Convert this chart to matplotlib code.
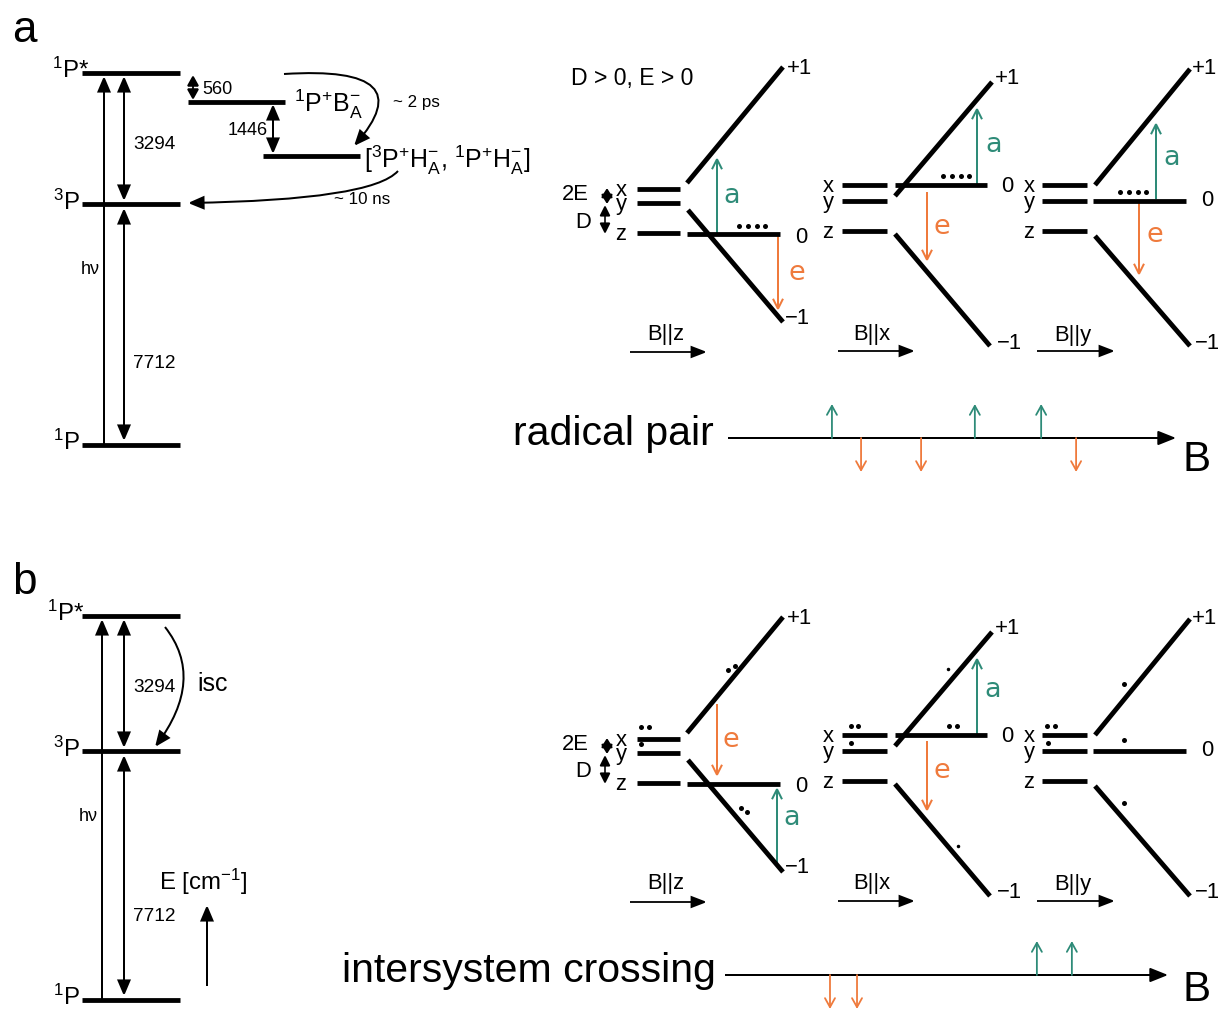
import matplotlib
matplotlib.use("Agg")
import matplotlib.pyplot as plt
from matplotlib.patches import FancyArrowPatch
from matplotlib.path import Path

plt.rcParams['font.family'] = ['Liberation Sans', 'DejaVu Sans']
plt.rcParams['mathtext.fontset'] = 'custom'
plt.rcParams['mathtext.rm'] = 'Liberation Sans'
plt.rcParams['mathtext.it'] = 'Liberation Sans:italic'
plt.rcParams['mathtext.default'] = 'regular'

# ---------------------------------------------------------------- data
panel_letters = ['a', 'b']
state_labels = [r'$^{1}$P*', r'$^{3}$P', r'$^{1}$P']
gap_values = ['3294', '7712']
rp_state_labels = [r'$^{1}$P$^{+}$B$_{A}^{-}$',
                   r'[$^{3}$P$^{+}$H$_{A}^{-}$, $^{1}$P$^{+}$H$_{A}^{-}$]']
rp_gap_values = ['560', '1446']
rate_labels = ['~ 2 ps', '~ 10 ns']
zf_labels = ['x', 'y', 'z']
hf_labels = ['+1', '0', '\u22121']
field_labels = ['B||z', 'B||x', 'B||y']
sign_text = 'D > 0, E > 0'
spectrum_titles = ['radical pair', 'intersystem crossing']

# stick spectra: field positions (arb. units, 0..10) and sign (+1 absorption, -1 emission)
rp_fields = [2.32, 2.97, 4.31, 5.51, 6.99, 7.77]
rp_signs = [1, -1, -1, 1, 1, -1]
isc_fields = [2.37, 2.98, 7.04, 7.83]
isc_signs = [-1, -1, 1, 1]

TEAL = '#2e8b78'
ORANGE = '#ef7a3c'

# ---------------------------------------------------------------- canvas
W, H, DPI = 1224, 1012, 100
fig = plt.figure(figsize=(W / DPI, H / DPI), dpi=DPI)
ax = fig.add_axes([0, 0, 1, 1])
ax.set_xlim(0, W)
ax.set_ylim(H, 0)
ax.axis('off')


def pt(v):
    """pixel length -> points"""
    return v * 72.0 / DPI


def text(x, y, s, size, ha='left', va='center', color='k', **kw):
    ax.text(x, y, s, fontsize=pt(size), ha=ha, va=va, color=color, **kw)


def arrow(p0, p1, style='-|>', color='k', lw=2.0, hl=12, hw=5, path=None):
    kw = dict(arrowstyle=f'{style},head_length={pt(hl)},head_width={pt(hw)}',
              mutation_scale=1, lw=pt(lw), color=color, joinstyle='miter',
              capstyle='butt')
    if path is not None:
        a = FancyArrowPatch(path=path, **kw)
    else:
        a = FancyArrowPatch(p0, p1, shrinkA=0, shrinkB=0, **kw)
    ax.add_patch(a)


def hline(x0, x1, y, lw=4.8):
    ax.plot([x0, x1], [y, y], color='k', lw=pt(lw), solid_capstyle='butt')


def seg(p0, p1, lw=4.8):
    ax.plot([p0[0], p1[0]], [p0[1], p1[1]], color='k', lw=pt(lw),
            solid_capstyle='butt')


def dots(xs, ys, size=5):
    ax.plot(xs, ys, 'o', color='k', ms=pt(size), mec='none')


# ---------------------------------------------------------------- layout
LEFT = dict(x0=82, x1=180, hv_x=[104, 102], gap_x=124)
level_y = [[74, 205, 446], [617, 752, 1001]]
panel_shift = [0, 550]

# triplet sublevel diagrams (panel a frame; panel b is shifted down)
diagrams = [
    dict(zf_x=(637, 680), zf_y=(190, 204, 234), lab_x=621,
         hf=[((687, 184), (783, 68)), ((687, 235), (780, 235)), ((688, 211), (783, 323))],
         hf_lab=[(787, 68, 'left'), (801, 237, 'center'), (785, 318, 'left')],
         farrow=(630, 707, 353), ftext=(666, 334)),
    dict(zf_x=(842, 887), zf_y=(186, 202, 232), lab_x=828,
         hf=[((895, 197), (992, 83)), ((895, 186), (987, 186)), ((895, 235), (990, 347))],
         hf_lab=[(995, 78, 'left'), (1007, 186, 'center'), (997, 343, 'left')],
         farrow=(838, 915, 352), ftext=(872, 334)),
    dict(zf_x=(1042, 1087), zf_y=(186, 202, 232), lab_x=1029,
         hf=[((1095, 186), (1190, 70)), ((1093, 202), (1186, 202)), ((1095, 237), (1190, 347))],
         hf_lab=[(1192, 68, 'left'), (1207, 200, 'center'), (1195, 343, 'left')],
         farrow=(1037, 1115, 352), ftext=(1073, 335)),
]

# EPR transitions drawn in each diagram: (colour, x, y_from, y_to, letter, label x, label y)
transitions = [
    [  # panel a: radical-pair populated T0
        [(TEAL, 717, 235, 158, 'a', 732, 196), (ORANGE, 778, 235, 312, 'e', 797, 273)],
        [(TEAL, 977, 186, 108, 'a', 994, 145), (ORANGE, 927, 193, 263, 'e', 942, 227)],
        [(TEAL, 1156, 200, 123, 'a', 1172, 158), (ORANGE, 1139, 204, 277, 'e', 1155, 235)],
    ],
    [  # panel b: intersystem crossing
        [(ORANGE, 717, 705, 778, 'e', 731, 740), (TEAL, 777, 867, 788, 'a', 792, 818)],
        [(TEAL, 977, 736, 658, 'a', 993, 690), (ORANGE, 927, 742, 813, 'e', 942, 771)],
        [],
    ],
]

# population dots
pop_dots = [
    [  # panel a
        ([739, 748, 757, 765], [227] * 4),
        ([943, 952, 961, 969], [177] * 4),
        ([1120, 1129, 1138, 1146], [193] * 4),
    ],
    [  # panel b
        ([641, 649, 641, 728, 735, 741, 747], [728, 728, 745, 671, 667, 809, 813]),
        ([851, 858, 851, 949, 957], [727, 727, 744, 727, 727]),
        ([1047, 1055, 1048, 1124, 1124, 1124], [727, 727, 744, 685, 741, 804]),
    ],
]
small_dots = [(948, 670), (958, 847)]

# ---------------------------------------------------------------- left: energy levels
for p in range(2):
    ly = level_y[p]
    text(12, 30 + panel_shift[p] + (3 if p else 0), panel_letters[p], 44, va='center')
    for y in ly:
        hline(LEFT['x0'], LEFT['x1'], y)
    text(89 if p == 0 else 84, ly[0] + 4, state_labels[0], 24, ha='right', va='baseline')
    text(80, ly[1] + 5, state_labels[1], 24, ha='right', va='baseline')
    text(80, ly[2] + 4, state_labels[2], 24, ha='right', va='baseline')
    hx = LEFT['hv_x'][p]
    arrow((hx, ly[2]), (hx, ly[0] + 3), hl=13, hw=5.5, lw=2)
    text(hx - 14, [269, 817][p], 'h\u03bd', 18, ha='center')
    gx = LEFT['gap_x']
    arrow((gx, ly[0] + 3), (gx, ly[1] - 3), style='<|-|>', hl=13, hw=5.5, lw=2)
    arrow((gx, ly[1] + 4), (gx, ly[2] - 4), style='<|-|>', hl=13, hw=5.5, lw=2)
    text(133, [144, 687][p], gap_values[0], 19)
    text(133, [363, 917][p], gap_values[1], 19)

# panel a: radical-pair states
hline(188, 285, 103)
hline(263, 360, 157)
arrow((193, 76), (193, 101), style='<|-|>', hl=9, hw=5, lw=1.8)
arrow((273, 105), (273, 155), style='<|-|>', hl=13, hw=5.5, lw=2)
text(202, 89, rp_gap_values[0], 18)
text(268, 130, rp_gap_values[1], 18, ha='right')
text(294, 112, rp_state_labels[0], 25, va='baseline')
text(364, 168, rp_state_labels[1], 25, va='baseline')
arrow(None, None, hl=13, hw=5.5, lw=2,
      path=Path([(284, 75), (425, 66), (354, 147)],
                [Path.MOVETO, Path.CURVE3, Path.CURVE3]))
arrow(None, None, hl=13, hw=5.5, lw=2,
      path=Path([(398, 172), (372, 201), (188, 204)],
                [Path.MOVETO, Path.CURVE3, Path.CURVE3]))
text(393, 102, rate_labels[0], 17)
text(334, 199, rate_labels[1], 17)

# panel b: intersystem crossing arrow and energy axis
arrow(None, None, hl=13, hw=5.5, lw=2,
      path=Path([(165, 628), (206, 680), (155, 748)],
                [Path.MOVETO, Path.CURVE3, Path.CURVE3]))
text(197, 684, 'isc', 25)
text(159, 882, r'E [cm$^{-1}$]', 24)
arrow((207, 987), (207, 906), hl=13, hw=5.5, lw=2)

# ---------------------------------------------------------------- right: triplet sublevels
for p in range(2):
    dy = panel_shift[p]
    if p == 0:
        text(571, 78, sign_text, 23)
    for k, d in enumerate(diagrams):
        x0, x1 = d['zf_x']
        for lab, y in zip(zf_labels, d['zf_y']):
            hline(x0, x1, y + dy)
            text(d['lab_x'], y + dy + 6, lab, 22, ha='center', va='baseline')
        for (a, b), lab, (lx, lyy, lha) in zip(d['hf'], hf_labels, d['hf_lab']):
            seg((a[0], a[1] + dy), (b[0], b[1] + dy))
            text(lx, lyy + dy, lab, 22, ha=lha)
        fx0, fx1, fy = d['farrow']
        arrow((fx0, fy + dy), (fx1, fy + dy), hl=13, hw=5, lw=1.8)
        text(d['ftext'][0], d['ftext'][1] + dy, field_labels[k], 22, ha='center')
        for col, x, ya, yb, letter, tx, ty in transitions[p][k]:
            arrow((x, ya), (x, yb), style='->', color=col, hl=10, hw=5, lw=2)
            text(tx, ty, letter, 27, ha='center', color=col, family='DejaVu Sans')
        xs, ys = pop_dots[p][k]
        dots(xs, ys)
    # zero-field splitting markers beside the B||z diagram
    zy = diagrams[0]['zf_y']
    arrow((607, zy[0] - 1 + dy), (607, zy[1] + 1 + dy), style='<|-|>', hl=8, hw=5, lw=1.6)
    arrow((605, zy[1] + 2 + dy), (605, zy[2] + 1 + dy), style='<|-|>', hl=9, hw=4.5, lw=1.6)
    text(589, 194 + dy, '2E', 22, ha='right')
    text(591, 222 + dy, 'D', 22, ha='right')

for (x, y) in small_dots:
    dots([x], [y], size=3.5)

# ---------------------------------------------------------------- stick spectra
spec_frames = [(728, 1176, 439), (725, 1168, 976)]
spec_data = [(rp_fields, rp_signs), (isc_fields, isc_signs)]
title_pos = [(513, 434), (342, 971)]
B_pos = [(1197, 460), (1197, 990)]
UNIT = 34.0
for (l, r, yc), (fields, signs), tpos, bpos, title in zip(
        spec_frames, spec_data, title_pos, B_pos, spectrum_titles):
    half = 50
    sax = fig.add_axes([l / W, 1 - (yc + half) / H, (r - l) / W, 2 * half / H])
    sax.set_xlim(0, 10)
    sax.set_ylim(-half / UNIT, half / UNIT)
    sax.axis('off')
    sax.patch.set_alpha(0)
    sax.add_patch(FancyArrowPatch((0, 0), (10, 0), shrinkA=0, shrinkB=0,
                                  arrowstyle=f'-|>,head_length={pt(15)},head_width={pt(6)}',
                                  mutation_scale=1, lw=pt(2), color='k'))
    for f, s in zip(fields, signs):
        col = TEAL if s > 0 else ORANGE
        sax.add_patch(FancyArrowPatch((f, 0), (f, s), shrinkA=0, shrinkB=0,
                                      arrowstyle=f'->,head_length={pt(9)},head_width={pt(5)}',
                                      mutation_scale=1, lw=pt(1.8), color=col))
    text(tpos[0], tpos[1], title, 41)
    text(bpos[0], bpos[1], 'B', 42, ha='center')

fig.savefig('out.png', dpi=DPI)
